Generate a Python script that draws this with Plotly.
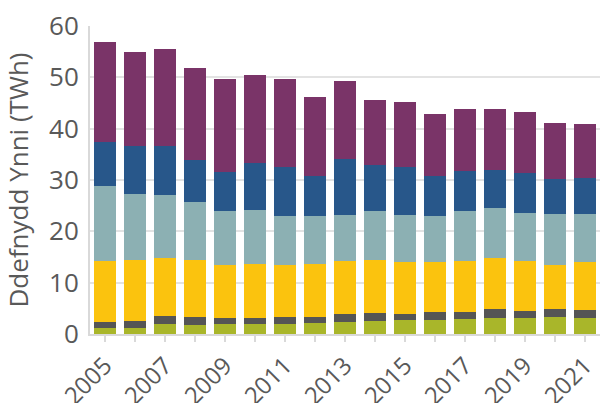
import plotly.graph_objects as go

years = list(range(2005, 2022))
green = [1.1, 1.1, 1.9, 1.7, 1.9, 1.9, 1.9, 2.1, 2.3, 2.5, 2.7, 2.7, 2.9, 3.2, 3.1, 3.4, 3.2]
darkgray = [1.2, 1.4, 1.7, 1.7, 1.2, 1.3, 1.5, 1.3, 1.5, 1.5, 1.1, 1.5, 1.3, 1.6, 1.3, 1.4, 1.4]
yellow = [11.9, 11.9, 11.2, 11.0, 10.3, 10.4, 10.0, 10.2, 10.4, 10.4, 10.2, 9.8, 10.0, 10.0, 9.8, 8.6, 9.4]
teal = [14.6, 12.8, 12.2, 11.4, 10.5, 10.5, 9.5, 9.3, 8.9, 9.5, 9.1, 8.9, 9.7, 9.7, 9.3, 9.9, 9.3]
blue = [8.7, 9.4, 9.6, 8.0, 7.7, 9.3, 9.6, 7.8, 10.9, 9.0, 9.4, 7.8, 7.8, 7.4, 7.8, 6.8, 7.0]
purple = [19.3, 18.3, 19.0, 18.1, 18.0, 17.0, 17.1, 15.4, 15.2, 12.6, 12.6, 12.1, 12.1, 11.9, 11.9, 11.1, 10.7]

series = [
    (green, "#A9B62A"),
    (darkgray, "#555555"),
    (yellow, "#FBC30E"),
    (teal, "#8CB0B3"),
    (blue, "#28578A"),
    (purple, "#7A3468"),
]

tick_text = [str(y) if (y - 2005) % 2 == 0 else "" for y in years]

fig = go.Figure()
for vals, col in series:
    fig.add_trace(go.Bar(x=years, y=vals, marker=dict(color=col, line=dict(width=0)),
                         showlegend=False))

fig.update_layout(
    barmode="stack",
    bargap=0.27,
    width=600, height=403,
    margin=dict(l=90, r=0, t=26, b=69),
    plot_bgcolor="white", paper_bgcolor="white",
    font=dict(family="Open Sans", color="#595959", size=26),
)
fig.update_xaxes(
    tickmode="array", tickvals=years, ticktext=tick_text,
    range=[2004.5, 2021.5], tickangle=-45, automargin=False,
    ticks="outside", ticklen=6, tickcolor="#d9d9d9", tickwidth=1.5,
    showline=True, linecolor="#d9d9d9", linewidth=2,
    showgrid=False, tickfont=dict(size=24, color="#595959"),
)
fig.update_yaxes(
    range=[0, 60], dtick=10, automargin=False,
    showgrid=True, gridcolor="#e3e3e3", gridwidth=1.5,
    showline=True, linecolor="#d9d9d9", linewidth=2,
    ticks="", ticklabelstandoff=4, tickfont=dict(size=26, color="#595959"),
    title=dict(text="Ddefnydd Ynni (TWh)", font=dict(size=26, color="#595959")),
    zeroline=False,
)

fig.write_html(
    "out.html",
    config={"displayModeBar": False},
    post_script="document.body.style.margin='0';document.body.style.overflow='hidden';",
)
